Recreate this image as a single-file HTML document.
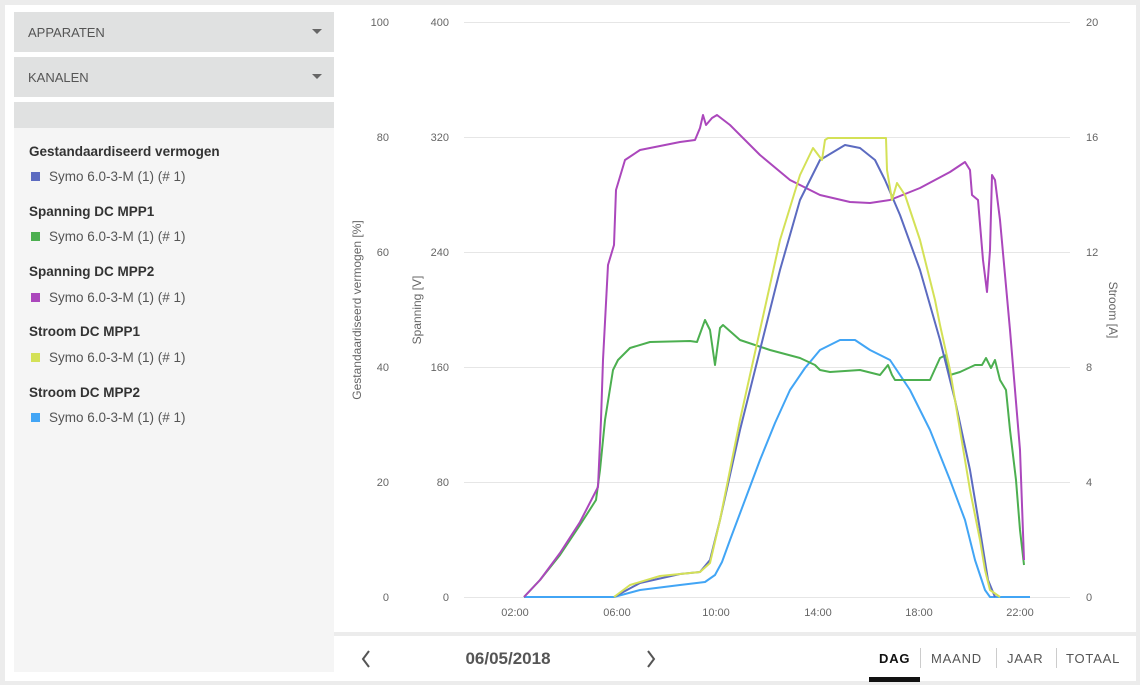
<!DOCTYPE html>
<html><head><meta charset="utf-8"><style>
*{margin:0;padding:0;box-sizing:border-box}
body{width:1140px;height:685px;background:#ececec;font-family:"Liberation Sans",sans-serif;position:relative;overflow:hidden}
.panel{position:absolute;left:5px;top:5px;width:1131px;height:676px;background:#fff}
.left{position:absolute;left:14px;top:102px;width:320px;height:570px;background:#f5f5f5}
.dd{position:absolute;left:14px;width:320px;height:40px;background:#e0e1e1;color:#555;font-size:13px;padding:13px 0 0 14px}
.arr:after{content:"";position:absolute;right:12px;top:17px;border-left:5px solid transparent;border-right:5px solid transparent;border-top:5px solid #666}
.h{position:absolute;left:29px;font-size:13.5px;font-weight:bold;color:#333}
.it{position:absolute;left:31px;font-size:13.5px;color:#555}
.it i{display:inline-block;width:9px;height:9px;margin-right:9px;vertical-align:0}
.bar{position:absolute;left:334px;top:632px;width:802px;height:4px;background:#ececec}
svg{position:absolute;left:0;top:0}
</style></head><body>
<div class="panel"></div>
<div class="dd arr" style="top:12px">APPARATEN</div>
<div class="dd arr" style="top:57px">KANALEN</div>
<div class="left"></div>
<div class="dd" style="top:102px;height:26px"></div>
<div class="h" style="top:144px">Gestandaardiseerd vermogen</div>
<div class="it" style="top:169px"><i style="background:#5c6bc0"></i>Symo 6.0-3-M (1) (# 1)</div>
<div class="h" style="top:204px">Spanning DC MPP1</div>
<div class="it" style="top:229px"><i style="background:#4caf50"></i>Symo 6.0-3-M (1) (# 1)</div>
<div class="h" style="top:264px">Spanning DC MPP2</div>
<div class="it" style="top:290px"><i style="background:#ab47bc"></i>Symo 6.0-3-M (1) (# 1)</div>
<div class="h" style="top:324px">Stroom DC MPP1</div>
<div class="it" style="top:350px"><i style="background:#d4e157"></i>Symo 6.0-3-M (1) (# 1)</div>
<div class="h" style="top:385px">Stroom DC MPP2</div>
<div class="it" style="top:410px"><i style="background:#42a5f5"></i>Symo 6.0-3-M (1) (# 1)</div>
<div class="bar"></div>
<svg width="1140" height="685" font-family="Liberation Sans, sans-serif">
<g stroke="#e6e6e6" stroke-width="1">
<line x1="464" y1="22.5" x2="1070" y2="22.5"/><line x1="464" y1="137.5" x2="1070" y2="137.5"/><line x1="464" y1="252.5" x2="1070" y2="252.5"/><line x1="464" y1="367.5" x2="1070" y2="367.5"/><line x1="464" y1="482.5" x2="1070" y2="482.5"/><line x1="464" y1="597.5" x2="1070" y2="597.5"/>
</g>
<g font-size="11" fill="#666" text-anchor="end">
<text x="389" y="26">100</text><text x="389" y="141">80</text><text x="389" y="256">60</text><text x="389" y="371">40</text><text x="389" y="486">20</text><text x="389" y="601">0</text>
<text x="449" y="26">400</text><text x="449" y="141">320</text><text x="449" y="256">240</text><text x="449" y="371">160</text><text x="449" y="486">80</text><text x="449" y="601">0</text>
</g>
<g font-size="11" fill="#666">
<text x="1086" y="26">20</text><text x="1086" y="141">16</text><text x="1086" y="256">12</text><text x="1086" y="371">8</text><text x="1086" y="486">4</text><text x="1086" y="601">0</text>
</g>
<g font-size="11" fill="#666" text-anchor="middle">
<text x="515" y="616">02:00</text><text x="617" y="616">06:00</text><text x="716" y="616">10:00</text><text x="818" y="616">14:00</text><text x="919" y="616">18:00</text><text x="1020" y="616">22:00</text>
</g>
<g font-size="12" fill="#666" text-anchor="middle">
<text transform="translate(361,310) rotate(-90)">Gestandaardiseerd vermogen [%]</text>
<text transform="translate(421,310) rotate(-90)">Spanning [V]</text>
<text transform="translate(1109,310) rotate(90)">Stroom [A]</text>
</g>
<g fill="none" stroke-width="2" stroke-linejoin="round">
<polyline stroke="#42a5f5" points="524,597 614,597 640,590 680,585 705,582 715,575 722,562 730,540 745,500 760,460 775,423 790,390 805,368 820,350 840,340 855,340 870,350 890,360 910,390 930,430 950,480 965,520 975,560 985,590 990,597 1030,597"/>
<polyline stroke="#4caf50" points="524,597 540,580 560,555 580,525 596,500 600,470 605,420 613,370 618,360 630,348 650,342 690,341 697,342 705,320 710,330 715,365 720,328 723,325 740,340 770,350 800,358 815,365 820,370 830,372 860,370 880,375 888,365 892,375 895,380 930,380 940,358 946,355 950,375 960,372 975,365 982,365 986,358 991,368 995,360 1000,380 1006,390 1010,430 1016,480 1020,530 1024,565"/>
<polyline stroke="#ab47bc" points="524,597 540,580 560,553 580,522 598,487 601,420 603,360 608,265 614,245 616,190 625,160 640,150 680,142 695,140 700,128 703,115 706,125 712,118 717,115 730,125 760,155 790,180 820,195 850,202 870,203 890,200 920,188 950,172 965,162 970,170 972,195 978,200 983,260 987,292 990,250 992,175 995,180 1000,220 1010,330 1020,450 1024,560"/>
<polyline stroke="#5c6bc0" points="614,597 640,583 680,574 700,572 710,560 720,520 740,430 760,350 780,270 800,200 820,160 845,145 860,148 875,160 885,180 900,215 920,270 940,340 955,400 970,470 980,530 988,580 995,597"/>
<polyline stroke="#d4e157" points="614,597 630,585 660,576 700,572 710,563 720,520 740,420 760,330 780,240 800,175 813,148 822,160 825,140 828,138 886,138 887,170 892,200 897,183 905,195 920,240 935,300 940,325 950,370 960,430 970,490 980,540 985,570 990,590 1000,597"/>
</g>
<path d="M369 651 L363 659 L369 667" stroke="#555" stroke-width="2" fill="none"/>
<path d="M648 651 L654 659 L648 667" stroke="#555" stroke-width="2" fill="none"/>
<text x="508" y="664" font-size="17" font-weight="bold" fill="#555" text-anchor="middle">06/05/2018</text>
<g font-size="13" fill="#555" letter-spacing="0.8">
<text x="879" y="663" font-weight="bold" fill="#111">DAG</text>
<text x="931" y="663">MAAND</text>
<text x="1007" y="663">JAAR</text>
<text x="1066" y="663">TOTAAL</text>
</g>
<g stroke="#ccc"><line x1="920.5" y1="648" x2="920.5" y2="668"/><line x1="996.5" y1="648" x2="996.5" y2="668"/><line x1="1056.5" y1="648" x2="1056.5" y2="668"/></g>
<rect x="869" y="677" width="51" height="5" fill="#111"/>
</svg>
</body></html>
